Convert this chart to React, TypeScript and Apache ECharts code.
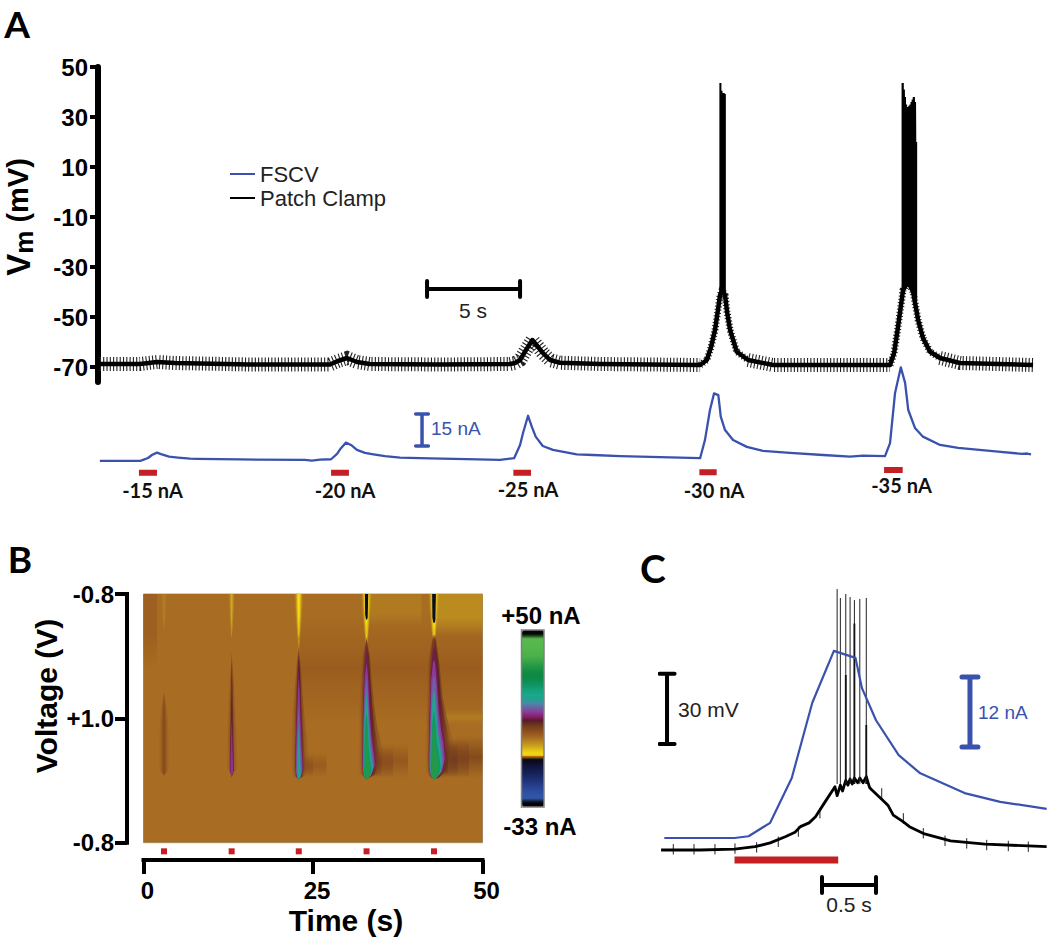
import React, { useEffect, useRef } from "react";
import * as echarts from "echarts";

// ---------- Panel A (time in s; Vm in mV; FSCV current in nA) ----------
const vmTicks = [-70, -50, -30, -10, 10, 30, 50];
const patchA = [
  [0.1, -68.8], [2.26, -68.8], [3.17, -68], [4.14, -68.4], [8.17, -69], [12.47, -69], [12.9, -67.6], [13.39, -66.4],
  [13.92, -68], [14.62, -68.8], [18.39, -69], [22.15, -68.8], [22.42, -68.4], [22.69, -67.2], [23.01, -63.2],
  [23.35, -59.2], [23.66, -62], [23.92, -64.4], [24.3, -67.2], [24.84, -68.3], [26.99, -68.8], [32.37, -69.2],
  [32.73, -67.2], [32.96, -62], [33.17, -55.2], [33.33, -47.2], [33.44, -41.2], [33.55, -39.2], [33.71, -41.2],
  [33.82, -48], [33.98, -55.2], [34.34, -63.9], [34.95, -67.2], [36.29, -69.2], [42.58, -69.2], [42.8, -64.4],
  [43.01, -53.9], [43.28, -39.2], [43.55, -35.9], [43.82, -39.9], [44.09, -51.2], [44.35, -58.4], [44.73, -63.9],
  [45.27, -66.4], [46.34, -68.4], [50.27, -69.2],
];
const fuzzyFlat = [[0.1, 32.37], [34.95, 42.58], [45.27, 50.27]];
const fuzzySteep = [[32.37, 34.95], [42.58, 45.27]];
const burstFour = [
  [33.46, -41, 43.6], [33.52, -40, 40.5], [33.58, -39, 39.6], [33.64, -39, 39.6], [33.7, -41, 39.2],
];
const burstFive = [
  [43.26, -40, 43.6], [43.32, -39, 41], [43.38, -38, 38], [43.44, -37, 35], [43.5, -36, 34], [43.56, -36, 34],
  [43.62, -36, 34.5], [43.68, -37, 35], [43.74, -37, 36], [43.8, -38, 37], [43.86, -39, 38], [43.92, -41, 36],
  [43.98, -43, 20],
];
const fscvA = [
  [0.1, 0], [2.26, 0], [2.42, 0.5], [2.69, 1.4], [2.9, 2.8], [3.17, 3.9], [3.39, 3.2], [3.82, 2], [4.3, 1.6], [4.95, 1.1],
  [5.38, 1], [7.63, 0.7], [11.13, 0.5], [11.5, 0.2], [11.94, 0.6], [12.53, 0.8], [12.85, 3.3], [13.06, 6], [13.33, 8.6],
  [13.6, 7.5], [13.92, 5.2], [14.35, 3.8], [14.89, 3], [15.43, 2.3], [16.24, 1.6], [17.85, 1.2], [20.43, 0.7], [21.61, 0.5],
  [22.37, 1.3], [22.69, 7.5], [22.85, 13.1], [23.12, 21.2], [23.32, 16.1], [23.53, 11.4], [23.91, 7], [24.46, 5.2],
  [25.74, 3.1], [26.61, 2.8], [28.06, 2.3], [29.68, 1.9], [32.37, 1.3], [32.63, 9.8], [32.9, 23.9], [33.12, 31.7],
  [33.35, 30.9], [33.48, 20.8], [33.71, 14.5], [34.14, 9.8], [34.88, 6.6], [35.75, 4.7], [37.2, 3.8], [38.98, 2.8],
  [40.43, 2], [41.13, 2.5], [42.31, 2.3], [42.58, 8.4], [42.85, 31.9], [43.16, 43.9], [43.39, 36.6], [43.56, 23.9],
  [43.92, 15.5], [44.35, 11.4], [45.27, 7.5], [46.24, 6.1], [48.39, 4.4], [49.68, 3.3], [49.95, 3.5], [50.16, 3.1],
];
const stimA = [
  [2.2, 3.17, -5.5], [12.53, 13.49, -5.5], [22.33, 23.28, -5.5], [32.33, 33.26, -5.3], [42.26, 43.26, -4.2],
];
const stimLabelsA = [
  ["-15 nA", 152.5, 490], ["-20 nA", 345, 490], ["-25 nA", 528, 489], ["-30 nA", 714, 490], ["-35 nA", 901.5, 485],
];

// ---------- Panel B (time in s; position along the voltage sweep; colour in nA) ----------
const sweepTicks = ["-0.8", "+1.0", "-0.8"];
const stimTimesB = [3.02, 13, 22.9, 32.9, 42.85];
const scaleColors = [
  "#050505", "#050505", "#3355a8", "#3053a5", "#2b4a98", "#263f8a", "#20327a", "#1b2a68", "#161f55", "#121844", "#0e1032",
  "#050510", "#f5e012", "#e9c816", "#cfa51c", "#bb8a20", "#a86d22", "#96581e", "#82481c", "#6d3820", "#581a28", "#8a1f70",
  "#8a3a9a", "#6a62a4", "#4a88a8", "#22a090", "#18a88c", "#14a27c", "#10986a", "#0e8f55", "#0e8a45", "#0f8a42", "#1a9245",
  "#2a9c48", "#3ca84a", "#4ab04b", "#50b44c", "#54b74c", "#57b94d", "#57b94d", "#050505", "#050505",
];
const shapes: Record<string, number[][]> = {
  full: [[0, 0], [50, 0], [50, 2], [0, 2]],
  p1: [[0, 0.85], [0.3, 1.05], [0.4, 1.25], [0.35, 1.42], [0, 1.46], [-0.35, 1.42], [-0.4, 1.25], [-0.3, 1.05]],
  p2: [[0, 0.8], [0.1, 0.95], [0.18, 1.15], [0.3, 1.33], [0.3, 1.42], [0, 1.47], [-0.25, 1.42], [-0.25, 1.28], [-0.15, 1.1], [-0.08, 0.95]],
  p3: [[0, 0.55], [0.15, 0.7], [0.25, 0.9], [0.4, 1.1], [0.6, 1.3], [0.65, 1.4], [0.3, 1.47], [0, 1.49], [-0.3, 1.47], [-0.5, 1.4], [-0.45, 1.2], [-0.35, 1], [-0.22, 0.8], [-0.12, 0.65]],
  p4: [[0, 0.47], [0.25, 0.6], [0.4, 0.8], [0.55, 0.95], [0.8, 1.12], [1.2, 1.28], [1.35, 1.36], [0.8, 1.45], [0, 1.49], [-0.5, 1.45], [-0.65, 1.36], [-0.6, 1.2], [-0.55, 1], [-0.45, 0.8], [-0.3, 0.6]],
  p5: [[0, 0.45], [0.15, 0.47], [0.45, 0.64], [0.75, 0.9], [1.1, 1.04], [1.5, 1.17], [1.75, 1.31], [1.3, 1.42], [0.4, 1.48], [0, 1.49], [-0.4, 1.47], [-0.75, 1.42], [-0.8, 1.31], [-0.75, 1.17], [-0.7, 1.04], [-0.6, 0.9], [-0.5, 0.64], [-0.15, 0.47]],
  streak: [[-0.5, 0], [0.5, 0], [0.28, 0.22], [0.08, 0.4], [0, 0.44], [-0.08, 0.4], [-0.28, 0.22]],
  streakCore: [[-0.28, 0], [0.28, 0], [0.2, 0.2], [0.1, 0.22], [-0.1, 0.22], [-0.24, 0.18]],
  topRightFive: [[43.2, 0], [50, 0], [50, 0.34], [43.2, 0.34]],
  topRightFour: [[33.3, 0], [41, 0], [41, 0.26], [33.3, 0.26]],
  topLeft: [[0, 0], [2, 0], [2, 0.6], [0, 0.6]],
  midDark: [[23, 0.15], [50, 0.15], [50, 1.05], [23, 1.05]],
  bandFive: [[43.4, 1.14], [50, 1.14], [50, 1.48], [43.4, 1.48]],
  bandFiveNear: [[43.4, 1.17], [48, 1.17], [48, 1.48], [43.4, 1.48]],
  bandFiveCore: [[43.4, 1.2], [46.3, 1.2], [46.3, 1.47], [43.4, 1.47]],
  bandFiveEdge: [[43.4, 1.24], [44.9, 1.24], [44.9, 1.46], [43.4, 1.46]],
  bandFour: [[33.3, 1.2], [39, 1.2], [39, 1.48], [33.3, 1.48]],
  bandFourNear: [[33.3, 1.23], [36.8, 1.23], [36.8, 1.48], [33.3, 1.48]],
  bandFourCore: [[33.3, 1.26], [35.1, 1.26], [35.1, 1.47], [33.3, 1.47]],
  bandThree: [[23.3, 1.27], [27, 1.27], [27, 1.48], [23.3, 1.48]],
  bandThreeNear: [[23.3, 1.3], [25, 1.3], [25, 1.47], [23.3, 1.47]],
  paleBand: [[43, 0.93], [50, 0.93], [50, 1.05], [43, 1.05]],
};
// shape, centre time, x stretch, y stretch, nA, fade
const heatLayers: [string, number, number, number, number, string][] = [
  ["full", 0, 1, 1, -0.6, ""],
  ["topLeft", 0, 1, 1, 0.6, "down"],
  ["midDark", 0, 1, 1, 0.9, "vband"],
  ["topRightFive", 0, 1, 1, -2.7, "down"],
  ["topRightFour", 0, 1, 1, -1.5, "down"],
  ["paleBand", 0, 1, 1, -1.6, "vband"],
  ["bandFive", 0, 1, 1, 3.2, "vband"],
  ["bandFiveNear", 0, 1, 1, 3.8, "vband"],
  ["bandFiveCore", 0, 1, 1, 4.8, "vband"],
  ["bandFiveEdge", 0, 1, 1, 6.6, "vband"],
  ["bandFour", 0, 1, 1, 1.6, "vband"],
  ["bandFourNear", 0, 1, 1, 2.6, "vband"],
  ["bandFourCore", 0, 1, 1, 3.8, "vband"],
  ["bandThree", 0, 1, 1, 1, "vband"],
  ["bandThreeNear", 0, 1, 1, 2.2, "vband"],
  ["streak", 3.02, 0.9, 0.65, -1.8, "hband"],
  ["streak", 13, 1, 0.8, -3.2, "hband"],
  ["streak", 13, 0.5, 0.6, -5, "hband"],
  ["streak", 22.9, 1.5, 1, -3.2, "hband"],
  ["streak", 22.9, 1.1, 0.8, -6.7, "hband"],
  ["streak", 22.9, 0.7, 0.55, -8.7, "hband"],
  ["streak", 32.9, 1.7, 1, -3.6, "hband"],
  ["streak", 32.9, 1.4, 0.85, -6.7, "hband"],
  ["streak", 32.9, 1.1, 0.6, -8.7, "hband"],
  ["streakCore", 32.9, 0.85, 0.93, -12, ""],
  ["streak", 42.85, 1.8, 1, -3.6, "hband"],
  ["streak", 42.85, 1.5, 0.88, -6.7, "hband"],
  ["streak", 42.85, 1.2, 0.65, -8.7, "hband"],
  ["streakCore", 42.85, 1, 1.05, -12, ""],
  ["p1", 3.02, 2, 1.1, 1.8, "hband"],
  ["p1", 3.02, 1.1, 1, 3, "hband"],
  ["p2", 13, 3, 1.5, 2, "hband"],
  ["p2", 13, 1.5, 1.4, 6, "hband"],
  ["p2", 13, 1, 1, 8.2, ""],
  ["p2", 13, 0.7, 0.7, 11, ""],
  ["p3", 22.9, 2.4, 1.12, 3, "hband"],
  ["p3", 22.9, 1.5, 1.08, 7, "hband"],
  ["p3", 22.9, 1, 0.98, 8.5, ""],
  ["p3", 22.9, 0.88, 0.86, 11.5, ""],
  ["p3", 22.9, 0.72, 0.62, 13.5, ""],
  ["p3", 22.9, 0.48, 0.46, 17.6, ""],
  ["p4", 32.9, 2, 1.12, 3.5, "hband"],
  ["p4", 32.9, 1.5, 1.1, 7, "hband"],
  ["p4", 32.9, 1, 1.02, 8.5, ""],
  ["p4", 32.9, 0.92, 0.92, 11.5, ""],
  ["p4", 32.9, 0.82, 0.8, 13.5, ""],
  ["p4", 32.9, 0.7, 0.68, 17.6, ""],
  ["p4", 32.9, 0.55, 0.52, 23.6, ""],
  ["p4", 32.9, 0.4, 0.42, 33, ""],
  ["p5", 42.85, 1.7, 1.12, 3.8, "hband"],
  ["p5", 42.85, 1.4, 1.1, 7, "hband"],
  ["p5", 42.85, 1, 1.02, 8.5, ""],
  ["p5", 42.85, 0.92, 0.92, 11.5, ""],
  ["p5", 42.85, 0.82, 0.8, 13.5, ""],
  ["p5", 42.85, 0.7, 0.68, 17.6, ""],
  ["p5", 42.85, 0.55, 0.52, 23.6, ""],
  ["p5", 42.85, 0.4, 0.42, 33, ""],
];

// ---------- Panel C (time in s; Vm in mV; FSCV current in nA) ----------
const fscvC = [
  [0.04, 0], [0.69, 0], [0.82, 0.3], [1.02, 2.6], [1.22, 10.3], [1.41, 23.2], [1.61, 32.1], [1.81, 30.9], [1.87, 25.7],
  [2, 20.2], [2.21, 14.2], [2.41, 11.1], [2.82, 7.7], [3.15, 6.2], [3.58, 5],
];
const patchC = [
  [0.01, -70], [0.37, -70], [0.69, -69.6], [0.88, -68.6], [1.02, -67], [1.16, -64.4], [1.25, -62.5], [1.3, -60.1], [1.38, -58.5],
  [1.44, -55.9], [1.53, -49.5], [1.62, -43.2], [1.64, -47], [1.67, -42.5], [1.69, -45], [1.72, -40.5], [1.74, -42.5],
  [1.76, -39.9], [1.78, -42], [1.8, -39.5], [1.83, -41.5], [1.85, -39.5], [1.88, -41.5], [1.91, -38.9], [1.94, -43.5],
  [1.96, -44.5], [2.06, -48.8], [2.11, -51], [2.16, -55.2], [2.25, -58], [2.31, -60.1], [2.45, -63.2], [2.69, -66.1],
  [3.01, -67.5], [3.58, -68.6],
];
const noiseTicksC = [
  [0.123, -69.7], [0.315, -69.7], [0.509, -69.7], [0.694, -69.4], [0.895, -68.9], [1.095, -66.5], [1.281, -62.2], [1.481, -54.4],
  [2.053, -46], [2.253, -56.6], [2.438, -62.9], [2.639, -66.1], [2.84, -67.2], [3.025, -67.9], [3.225, -68.3], [3.41, -68.6],
];
const spikesC = [
  [1.64, 40.6], [1.67, 36.8], [1.72, 38.5], [1.76, 37.2], [1.8, 35.9], [1.85, 36.4], [1.91, 36.8],
];
const spikeStemsC = [[1.72, 4.2], [1.8, 26], [1.91, -17]];
const stimC = [[0.69, 1.65, -74.2]];

const SANS = '"Liberation Sans", Arial, sans-serif';
const LATO = 'Lato, "Open Sans", sans-serif';
const BLUE = "#3a52ae";
const RED = "#c41f22";

const gaps = (rows: number[][]) => rows.flatMap(([a, b, y]) => [[a, y], [b, y], ["-", "-"]]);
const spikePath = (rows: number[][], base: number) => rows.flatMap(([t, top]) => [[t, base], [t, top], ["-", "-"]]);
const pick = (rows: number[][], ranges: number[][]) =>
  ranges.flatMap(([a, b]) => [...rows.filter((p) => p[0] >= a && p[0] <= b), ["-", "-"]]);
const hBar = (t0: number, t1: number, y: number, cap: number) => [
  [t0, y - cap], [t0, y + cap], [t0, y], [t1, y], [t1, y + cap], [t1, y - cap],
];
const vBar = (t: number, y0: number, y1: number, cap: number) => [
  [t - cap, y0], [t + cap, y0], [t, y0], [t, y1], [t + cap, y1], [t - cap, y1],
];

const text = (str: string, x: number, y: number, font: string, fill = "#000", align = "center", rotation = 0) => ({
  type: "text",
  x,
  y,
  rotation,
  silent: true,
  z: 10,
  style: { text: str, font, fill, align, textAlign: align, verticalAlign: "middle", textVerticalAlign: "middle" },
});

const line = (name: string, xi: number, yi: number, data: any[], color: string, width: number, extra: any = {}) => ({
  type: "line",
  name,
  xAxisIndex: xi,
  yAxisIndex: yi,
  data,
  symbol: "none",
  silent: true,
  animation: false,
  lineStyle: { color, width, cap: "butt", join: "miter", ...extra },
  itemStyle: { color },
});

const hiddenX = (gridIndex: number, min: number, max: number) => ({ type: "value", gridIndex, min, max, show: false });
const hiddenY = (gridIndex: number, min: number, max: number) => ({ type: "value", gridIndex, min, max, show: false });

function heatItem(_: any, api: any) {
  const [shape, t0, kx, ks, , fade] = heatLayers[api.value(0)];
  const outline = shapes[shape];
  const bottom = shape === "streak" || shape === "streakCore" ? 0 : Math.max(...outline.map((p) => p[1]));
  const points = outline.map(([t, s]) => api.coord([t0 + t * kx, bottom + (s - bottom) * ks]));
  const c = api.visual("color");
  const clear = echarts.color.modifyAlpha(c, 0);
  let fill: any = c;
  if (fade === "down") fill = new echarts.graphic.LinearGradient(0, 0, 0, 1, [{ offset: 0, color: c }, { offset: 0.55, color: c }, { offset: 1, color: clear }]);
  if (fade === "hband") fill = new echarts.graphic.LinearGradient(0, 0, 1, 0, [{ offset: 0, color: clear }, { offset: 0.5, color: c }, { offset: 1, color: clear }]);
  if (fade === "vband") fill = new echarts.graphic.LinearGradient(0, 0, 0, 1, [{ offset: 0, color: clear }, { offset: 0.5, color: c }, { offset: 1, color: clear }]);
  return { type: "polygon", shape: { points }, style: { fill } };
}

export default function App() {
  const ref = useRef<HTMLDivElement>(null);
  useEffect(() => {
    const chart = echarts.init(ref.current!, undefined, { renderer: "svg" });
    chart.setOption({
      animation: false,
      backgroundColor: "#fff",
      grid: [
        { left: 98, right: 0, top: 67, height: 315 },
        { left: 98, right: 0, top: 354.33, height: 123.7 },
        { left: 143.5, width: 339, top: 594, height: 248.7, show: true, borderColor: "#9a9a9a", borderWidth: 1, backgroundColor: "transparent" },
        { left: 143.5, width: 339, top: 846, height: 14 },
        { left: 660, right: 0, top: 585, height: 310 },
      ],
      xAxis: [
        hiddenX(0, 0, 51.18),
        hiddenX(1, 0, 51.18),
        hiddenX(2, 0, 50),
        {
          type: "value", gridIndex: 3, min: 0, max: 50, interval: 25, splitLine: { show: false },
          axisLine: { show: true, onZero: false, lineStyle: { color: "#000", width: 4, cap: "square" } },
          axisTick: { show: true, length: 14, lineStyle: { color: "#000", width: 4 } },
          axisLabel: { margin: 18, padding: [0, 0, 0, 8], fontFamily: SANS, fontWeight: "bold", fontSize: 24, color: "#000" },
        },
        hiddenX(4, 0, 3.611),
      ],
      yAxis: [
        {
          type: "value", gridIndex: 0, min: -76, max: 50, splitLine: { show: false },
          axisLine: { show: true, onZero: false, lineStyle: { color: "#000", width: 6, cap: "round" } },
          axisTick: { show: true, length: 8, customValues: vmTicks, lineStyle: { color: "#000", width: 4 } },
          axisLabel: { margin: 10, customValues: vmTicks, fontFamily: SANS, fontWeight: "bold", fontSize: 24, color: "#000" },
        },
        hiddenY(1, -8, 50),
        {
          type: "value", gridIndex: 2, min: 0, max: 2, interval: 1, inverse: true, offset: 16.5, splitLine: { show: false },
          axisLine: { show: true, onZero: false, lineStyle: { color: "#000", width: 4, cap: "square" } },
          axisTick: { show: true, length: 12, lineStyle: { color: "#000", width: 4 } },
          axisLabel: {
            margin: 13, fontFamily: SANS, fontWeight: "bold", fontSize: 24, color: "#000",
            formatter: (v: number) => sweepTicks[v],
          },
        },
        hiddenY(3, 0, 1),
        hiddenY(4, -89.07, 42.3),
        hiddenY(4, -9.78, 43.4),
      ],
      visualMap: {
        type: "continuous",
        seriesIndex: 0,
        dimension: 1,
        min: -33,
        max: 50,
        left: 522,
        top: 630,
        itemWidth: 22,
        itemHeight: 177,
        padding: 0,
        calculable: false,
        hoverLink: false,
        realtime: false,
        text: ["", ""],
        showLabel: false,
        inRange: { color: scaleColors },
      },
      legend: {
        left: 230,
        top: 163,
        orient: "vertical",
        itemWidth: 25,
        itemHeight: 2,
        itemGap: 2,
        icon: "rect",
        selectedMode: false,
        padding: 0,
        data: ["FSCV", "Patch Clamp"],
        textStyle: { fontFamily: SANS, fontSize: 22, color: "#222" },
      },
      graphic: [
        text("A", 17, 23, `bold 37px ${LATO}`),
        text("B", 20, 558, `bold 37px ${LATO}`),
        text("C", 653, 568, `bold 39px ${LATO}`),
        {
          type: "text", x: 18, y: 217, rotation: Math.PI / 2, silent: true,
          style: {
            text: "{v|V}{m|m}{r| (mV)}", align: "center", textAlign: "center", verticalAlign: "middle", textVerticalAlign: "middle",
            rich: {
              v: { font: `bold 33px ${SANS}`, fill: "#000", lineHeight: 38 },
              m: { font: `bold 26px ${SANS}`, fill: "#000", lineHeight: 26, verticalAlign: "bottom" },
              r: { font: `bold 29px ${SANS}`, fill: "#000", lineHeight: 38 },
            },
          },
        },
        text("5 s", 473, 310, `21px ${SANS}`, "#222"),
        text("15 nA", 431, 428, `19px ${SANS}`, BLUE, "left"),
        ...stimLabelsA.map(([s, x, y]) => text(s as string, x as number, y as number, `bold 20px ${LATO}`, "#111")),
        text("Voltage (V)", 46, 696, `bold 30px ${SANS}`, "#000", "center", Math.PI / 2),
        text("Time (s)", 346, 920, `bold 30px ${SANS}`),
        text("+50 nA", 541, 615, `bold 24px ${SANS}`),
        text("-33 nA", 540, 826, `bold 24px ${SANS}`),
        { type: "rect", silent: true, z: 10, shape: { x: 521.5, y: 630, width: 22.5, height: 177 }, style: { fill: "none", stroke: "#808080", lineWidth: 1.5 } },
        { type: "rect", silent: true, z: 10, shape: { x: 522, y: 756.5, width: 22, height: 1.5 }, style: { fill: "#d8281c" } },
        text("30 mV", 678, 709, `21px ${SANS}`, "#222", "left"),
        text("12 nA", 978, 712, `19px ${SANS}`, BLUE, "left"),
        text("0.5 s", 849, 904, `21px ${SANS}`, "#222"),
      ],
      series: [
        {
          type: "custom",
          name: "FSCV colour plot",
          xAxisIndex: 2,
          yAxisIndex: 2,
          clip: true,
          silent: true,
          data: heatLayers.map((l, i) => [i, l[4]]),
          renderItem: heatItem,
        },
        line("Patch Clamp noise", 0, 0, pick(patchA, fuzzyFlat), "#222", 14, { type: [1.1, 2.2] }),
        line("Patch Clamp noise steep", 0, 0, pick(patchA, fuzzySteep), "#222", 7, { type: [1.1, 2.2] }),
        line("Patch Clamp", 0, 0, patchA, "#000", 4.5, { join: "round" }),
        line("Burst 4", 0, 0, burstFour.flatMap(([t, lo, hi]) => [[t, lo], [t, hi]]), "#000", 2),
        line("Burst 5", 0, 0, burstFive.flatMap(([t, lo, hi]) => [[t, lo], [t, hi]]), "#000", 2.2),
        line("FSCV", 1, 1, fscvA, BLUE, 2.3, { join: "round" }),
        line("Stimulus A", 1, 1, gaps(stimA), RED, 6),
        line("Scale 5 s", 0, 0, hBar(17.69, 22.69, -38.8, 3.2), "#000", 4, { cap: "round", join: "round" }),
        line("Scale 15 nA", 1, 1, vBar(17.42, 7, 22, 0.34), BLUE, 3.5, { cap: "round", join: "round" }),
        {
          type: "scatter", name: "Stimulus B", xAxisIndex: 3, yAxisIndex: 3, silent: true, symbol: "rect", symbolSize: 6,
          itemStyle: { color: RED, opacity: 1 }, data: stimTimesB.map((t) => [t, 0.62]),
        },
        line("Patch Clamp C noise", 4, 4, noiseTicksC.flatMap(([t, v]) => [[t, v - 2.2], [t, v + 2.2], ["-", "-"]]), "#222", 1),
        line("Patch Clamp C", 4, 4, patchC, "#000", 2.8, { join: "round" }),
        line("Spikes C", 4, 4, spikePath(spikesC, -42), "#222", 1),
        line("Spike stems C", 4, 4, spikePath(spikeStemsC, -42), "#111", 1.8),
        line("FSCV C", 4, 5, fscvC, BLUE, 2.2, { join: "round" }),
        line("Stimulus C", 4, 4, gaps(stimC), RED, 7),
        line("Scale 30 mV", 4, 4, vBar(0.065, -25.1, 4.7, 0.07), "#000", 4, { cap: "round", join: "round" }),
        line("Scale 12 nA", 4, 5, vBar(2.87, 15.6, 27.6, 0.074), BLUE, 5, { cap: "round", join: "round" }),
        line("Scale 0.5 s", 4, 4, hBar(1.5, 2, -84.83, 3.4), "#000", 4, { cap: "round", join: "round" }),
      ],
    });
    return () => chart.dispose();
  }, []);
  return <div ref={ref} style={{ position: "absolute", left: 0, top: 0, width: 1050, height: 938 }} />;
}
